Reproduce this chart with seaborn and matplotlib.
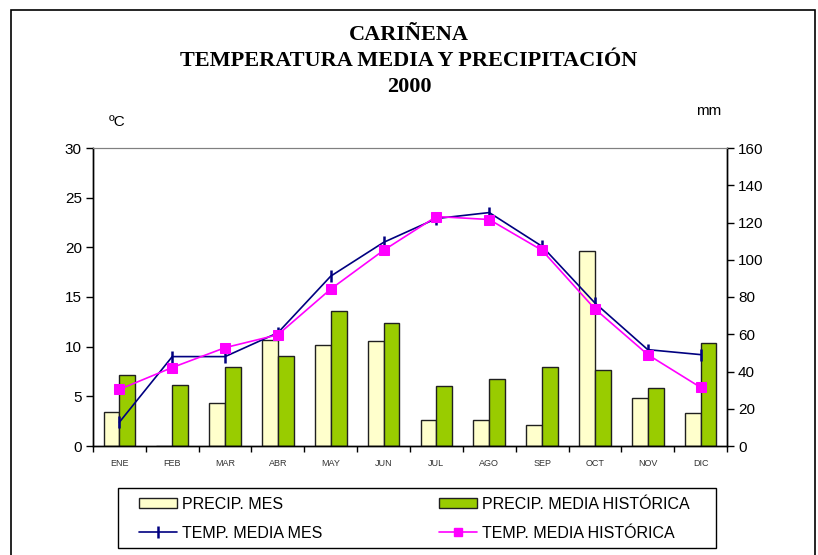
import numpy as np
import pandas as pd
import seaborn as sns
import matplotlib.pyplot as plt
from matplotlib.patches import Rectangle, Patch
from matplotlib.lines import Line2D

### data
meses = ["ENE", "FEB", "MAR", "ABR", "MAY", "JUN", "JUL", "AGO", "SEP", "OCT", "NOV", "DIC"]
# precipitation (mm, right axis)
precip_mes = [18.4, 0.0, 22.9, 56.7, 54.4, 56.4, 13.8, 13.8, 11.5, 104.5, 25.9, 17.9]
precip_hist = [38.1, 32.9, 42.2, 48.5, 72.5, 66.0, 32.2, 36.1, 42.6, 40.6, 31.0, 55.1]
# temperature (ºC, left axis)
temp_mes = [2.4, 9.0, 9.0, 11.4, 17.1, 20.5, 22.9, 23.5, 20.1, 14.4, 9.7, 9.2]
temp_hist = [5.7, 7.9, 9.9, 11.2, 15.8, 19.7, 23.1, 22.8, 19.7, 13.8, 9.2, 5.9]

lbl_pm = "PRECIP. MES"
lbl_ph = "PRECIP. MEDIA HISTÓRICA"
lbl_tm = "TEMP. MEDIA MES"
lbl_th = "TEMP. MEDIA HISTÓRICA"

col_pm = "#FFFFCC"
col_ph = "#99CC00"
col_tm = "#000080"
col_th = "#FF00FF"

sns.set_style("white")
plt.rcParams['font.family'] = ['Liberation Sans', 'DejaVu Sans']
plt.rcParams['text.color'] = 'black'
plt.rcParams['xtick.color'] = 'black'
plt.rcParams['ytick.color'] = 'black'

W, H = 818, 555
fig = plt.figure(figsize=(W / 100, H / 100), dpi=100)
ax = fig.add_axes([93 / W, 1 - 446 / H, (727 - 93) / W, (446 - 148) / H])
ax2 = ax.twinx()

# bars on the mm axis
df_p = pd.DataFrame({
    "mes": meses * 2,
    "mm": precip_mes + precip_hist,
    "serie": [lbl_pm] * 12 + [lbl_ph] * 12,
})
sns.barplot(data=df_p, x="mes", y="mm", hue="serie", order=meses,
            palette=[col_pm, col_ph], saturation=1, width=0.6, gap=0,
            edgecolor="#202020", linewidth=1.0, legend=False, ax=ax2)

# temperature lines on the ºC axis
df_t = pd.DataFrame({"mes": meses, "tm": temp_mes, "th": temp_hist})
sns.lineplot(data=df_t, x="mes", y="tm", sort=False, color=col_tm, lw=1.2,
             marker="|", markersize=9, mew=1.8, mec=col_tm, ax=ax)
sns.lineplot(data=df_t, x="mes", y="th", sort=False, color=col_th, lw=1.2,
             marker="s", markersize=6.5, mec=col_th, ax=ax)

ax.set_zorder(ax2.get_zorder() + 1)
ax.patch.set_visible(False)

ax.set_xlim(-0.5, 11.5)
ax.set_ylim(0, 30)
ax.set_yticks(range(0, 31, 5))
ax2.set_ylim(0, 160)
ax2.set_yticks(range(0, 161, 20))
for a in (ax, ax2):
    a.set_xlabel("")
    a.set_ylabel("")

ax.set_xticks(range(12))
ax.set_xticklabels(meses, fontsize=6.5, color="#333333")
ax.set_xticks(np.arange(-0.5, 12, 1), minor=True)
ax.tick_params(axis="x", which="major", length=0, pad=9)
ax.tick_params(axis="x", which="minor", length=4, direction="out", width=1, bottom=True)
ax.tick_params(axis="y", length=5, direction="out", width=1, labelsize=11, left=True, pad=3)
ax2.tick_params(axis="y", length=5, direction="out", width=1, labelsize=11, right=True, pad=3)

for a in (ax, ax2):
    for s in ("left", "right", "bottom"):
        a.spines[s].set_color("black")
        a.spines[s].set_linewidth(1.0)
    a.spines["top"].set_color("#808080")

# titles
for yy, txt in [(35, "CARIÑENA"), (61, "TEMPERATURA MEDIA Y PRECIPITACIÓN"), (87, "2000")]:
    fig.text(0.5, 1 - yy / H, txt, ha="center", va="center", fontsize=16,
             fontweight="bold", family="Liberation Serif")
fig.text(117 / W, 1 - 122 / H, "ºC", ha="center", va="center", fontsize=11)
fig.text(709 / W, 1 - 111 / H, "mm", ha="center", va="center", fontsize=11)

# legend: two single-column legends inside one drawn frame
col1 = [
    Patch(facecolor=col_pm, edgecolor="#202020", label=lbl_pm),
    Line2D([], [], color=col_tm, marker="|", markersize=9, mew=1.8, lw=1.2, label=lbl_tm),
]
col2 = [
    Patch(facecolor=col_ph, edgecolor="#202020", label=lbl_ph),
    Line2D([], [], color=col_th, marker="s", markersize=6, lw=1.2, label=lbl_th),
]
ymid = 1 - 518.7 / H
for hs, x0 in [(col1, 139), (col2, 439)]:
    fig.legend(handles=hs, loc="center left", bbox_to_anchor=(x0 / W, ymid),
               fontsize=11.5, frameon=False, handlelength=2.4, handleheight=0.55,
               handletextpad=0.28, borderpad=0, borderaxespad=0, labelspacing=0.88)
fig.patches.append(Rectangle((118 / W, 1 - 548 / H), (716 - 118) / W, 60 / H,
                             transform=fig.transFigure, fill=False,
                             edgecolor="black", linewidth=1.0))

# outer chart border
fig.patches.append(Rectangle((11 / W, -0.05), (815 - 11) / W, 1.05 - 10 / H,
                             transform=fig.transFigure, fill=False,
                             edgecolor="black", linewidth=1.2))

fig.savefig("out.png", dpi=100)
